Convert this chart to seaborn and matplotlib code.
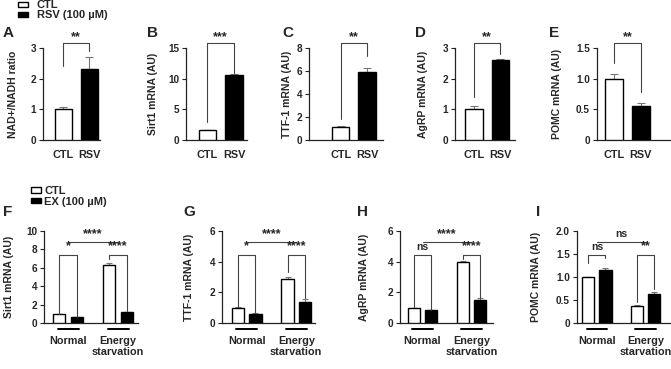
import numpy as np
import pandas as pd
import matplotlib
matplotlib.use("Agg")
import matplotlib.pyplot as plt
import seaborn as sns
from matplotlib.patches import Patch

# ---------------- data ----------------
top_groups = ["CTL", "RSV"]
top_letters = ["A", "B", "C", "D", "E"]
top_ylabels = ["NAD+/NADH ratio", "Sirt1 mRNA (AU)", "TTF-1 mRNA (AU)",
               "AgRP mRNA (AU)", "POMC mRNA (AU)"]
top_means = [[1.0, 2.3], [1.6, 10.6], [1.1, 5.9], [1.0, 2.6], [1.0, 0.55]]
top_sem = [[0.07, 0.4], [0.1, 0.1], [0.12, 0.35], [0.12, 0.03], [0.07, 0.05]]
top_yticks = [[0, 1, 2, 3], [0, 5, 10, 15], [0, 2, 4, 6, 8], [0, 1, 2, 3],
              [0, 0.5, 1.0, 1.5]]
top_yticklabels = [["0", "1", "2", "3"], ["0", "5", "10", "15"],
                   ["0", "2", "4", "6", "8"], ["0", "1", "2", "3"],
                   ["0", "0.5", "1.0", "1.5"]]
top_sig = ["**", "***", "**", "**", "**"]
top_leg_bottom = [[2.4, 2.9], [3.0, 10.9], [1.8, 7.3], [1.4, 2.8], [1.26, 0.79]]

bot_groups = ["Normal", "Energy\nstarvation"]
bot_treats = ["CTL", "EX (100 µM)"]
bot_letters = ["F", "G", "H", "I"]
bot_ylabels = ["Sirt1 mRNA (AU)", "TTF-1 mRNA (AU)", "AgRP mRNA (AU)",
               "POMC mRNA (AU)"]
bot_ctl = [[1.0, 6.3], [1.0, 2.9], [1.0, 4.0], [1.0, 0.38]]
bot_ex = [[0.65, 1.15], [0.6, 1.4], [0.85, 1.5], [1.15, 0.64]]
bot_ctl_sem = [[0.0, 0.25], [0.05, 0.07], [0.0, 0.07], [0.0, 0.02]]
bot_ex_sem = [[0.03, 0.05], [0.05, 0.15], [0.0, 0.15], [0.05, 0.03]]
bot_yticks = [[0, 2, 4, 6, 8, 10], [0, 2, 4, 6], [0, 2, 4, 6],
              [0, 0.5, 1.0, 1.5, 2.0]]
bot_yticklabels = [["0", "2", "4", "6", "8", "10"], ["0", "2", "4", "6"],
                   ["0", "2", "4", "6"], ["0", "0.5", "1.0", "1.5", "2.0"]]
bot_sig_within = [["*", "****"], ["*", "****"], ["ns", "****"], ["ns", "**"]]
bot_sig_between = ["****", "****", "****", "ns"]
bot_leg_bottom = [[[1.0, 0.65], [7.0, 1.3]], [[1.05, 0.65], [3.3, 1.6]],
                  [[1.04, 0.85], [4.17, 1.63]], [[1.3, 1.42], [0.45, 0.75]]]

# ---------------- layout (pixels) ----------------
W, H = 671, 369
top_rects = [(43, 48, 100, 140), (186, 48, 247, 140), (309, 48, 383, 140),
             (455, 48, 515, 140), (597, 48, 670, 140)]
top_xlims = [(-0.79, 1.42), (-0.81, 1.49), (-1.19, 1.6), (-0.72, 1.55), (-0.64, 2.1)]
top_letter_x = [3, 147, 282, 415, 549]
top_ylabel_x = [13, 153, 287, 423, 557]

bot_rects = [(44, 231, 138, 323), (222, 231, 315, 323), (400, 231, 493, 323),
             (577, 231, 670, 323)]
bot_xlims = [(-0.48, 1.4), (-0.5, 1.38), (-0.46, 1.44), (-0.41, 1.5)]
bot_letter_x = [3, 183, 357, 536]
bot_ylabel_x = [9, 189, 364, 536]

sns.set_style("ticks")
plt.rcParams["font.family"] = ["Liberation Sans", "DejaVu Sans"]
plt.rcParams["font.weight"] = "bold"
plt.rcParams["axes.labelweight"] = "bold"

fig = plt.figure(figsize=(W / 100, H / 100), dpi=100)
fig.patch.set_facecolor("white")

LINE = "#444444"
ERR = "#777777"
SIGFS = 9


def add_ax(rect):
    l, t, r, b = rect
    return fig.add_axes([l / W, 1 - b / H, (r - l) / W, (b - t) / H])


def style_ax(ax, yticks, yticklabels, ylabel, lab_x_px, rect):
    ax.set_ylim(yticks[0], yticks[-1])
    ax.set_yticks(yticks)
    ax.set_yticklabels(yticklabels)
    ax.set_ylabel(ylabel, fontsize=7.5, fontweight="bold")
    l, t, r, b = rect
    ax.yaxis.set_label_coords((lab_x_px + 5 - l) / (r - l), 0.5)
    sns.despine(ax=ax)
    for s in ["left", "bottom"]:
        ax.spines[s].set_linewidth(0.9)
        ax.spines[s].set_color("#222222")
    ax.tick_params(axis="y", length=3, width=0.8, labelsize=7.2, pad=2,
                   color="#222222")
    ax.set_xlabel("")
    ax.set_facecolor("white")


def bracket(ax, x0, x1, top, b0, b1, txt, txt_y):
    ax.plot([x0, x0, x1, x1], [b0, top, top, b1], color=LINE, lw=0.8,
            clip_on=False, zorder=5)
    fs = 7.5 if txt == "ns" else SIGFS
    ax.text((x0 + x1) / 2, txt_y, txt, ha="center", va="center",
            fontsize=fs, fontweight="bold", clip_on=False, zorder=6)


# ---------------- top row ----------------
for i in range(5):
    rect = top_rects[i]
    ax = add_ax(rect)
    sns.barplot(x=top_groups, y=top_means[i], hue=top_groups,
                palette=["white", "black"], edgecolor="black", linewidth=1.0,
                width=0.67, errorbar=None, legend=False, ax=ax, zorder=3)
    ax.errorbar([0, 1], top_means[i], yerr=[[0, 0], top_sem[i]], fmt="none",
                ecolor=ERR, elinewidth=0.8, capsize=3, capthick=0.8, zorder=2)
    style_ax(ax, top_yticks[i], top_yticklabels[i], top_ylabels[i],
             top_ylabel_x[i], rect)
    ax.set_xlim(*top_xlims[i])
    ax.tick_params(axis="x", length=0, labelsize=7.8, pad=7)
    ymax = top_yticks[i][-1]
    span = rect[3] - rect[1]
    top_y = ymax * (rect[3] - 43) / span
    txt_y = ymax * (rect[3] - 37) / span
    bracket(ax, 0, 1, top_y, top_leg_bottom[i][0], top_leg_bottom[i][1],
            top_sig[i], txt_y)
    fig.text(top_letter_x[i] / W, 1 - 33 / H, top_letters[i], fontsize=11,
             fontweight="bold", ha="left", va="center")

# ---------------- bottom row ----------------
half = 0.175
for i in range(4):
    rect = bot_rects[i]
    ax = add_ax(rect)
    df = pd.DataFrame({
        "cond": bot_groups * 2,
        "treat": [bot_treats[0]] * 2 + [bot_treats[1]] * 2,
        "value": bot_ctl[i] + bot_ex[i],
    })
    sns.barplot(data=df, x="cond", y="value", hue="treat", order=bot_groups,
                hue_order=bot_treats, palette=["white", "black"],
                edgecolor="black", linewidth=1.0, width=0.7, gap=0.29,
                errorbar=None, legend=False, ax=ax, zorder=3)
    xs = [0 - half, 1 - half, 0 + half, 1 + half]
    ys = bot_ctl[i] + bot_ex[i]
    es = bot_ctl_sem[i] + bot_ex_sem[i]
    ax.errorbar(xs, ys, yerr=[[0] * 4, es], fmt="none", ecolor=ERR,
                elinewidth=0.8, capsize=2.5, capthick=0.8, zorder=2)
    style_ax(ax, bot_yticks[i], bot_yticklabels[i], bot_ylabels[i],
             bot_ylabel_x[i], rect)
    ax.set_xlim(*bot_xlims[i])
    ax.tick_params(axis="x", length=0, labelsize=7.8, pad=9)
    span = rect[3] - rect[1]
    for g in range(2):
        ax.plot([g - 0.21, g + 0.21], [-6 / span] * 2, color="black", lw=1.4,
                transform=ax.get_xaxis_transform(), clip_on=False)
    ymax = bot_yticks[i][-1]
    inner_top = ymax * 0.74
    inner_txt = ymax * 0.83
    for g in range(2):
        bracket(ax, g - half, g + half, inner_top, bot_leg_bottom[i][g][0],
                bot_leg_bottom[i][g][1], bot_sig_within[i][g], inner_txt)
    ov = ymax * 0.88
    ax.plot([0, 1], [ov, ov], color=LINE, lw=0.8, clip_on=False, zorder=5)
    fs = 7.5 if bot_sig_between[i] == "ns" else SIGFS
    ax.text(0.5, ymax * 0.965, bot_sig_between[i], ha="center", va="center",
            fontsize=fs, fontweight="bold", clip_on=False)
    fig.text(bot_letter_x[i] / W, 1 - 212 / H, bot_letters[i], fontsize=11,
             fontweight="bold", ha="left", va="center")

# ---------------- legends ----------------
top_handles = [Patch(facecolor="white", edgecolor="black", lw=1, label="CTL"),
               Patch(facecolor="black", edgecolor="black", lw=1,
                     label="RSV (100 µM)")]
fig.legend(handles=top_handles, loc="upper left",
           bbox_to_anchor=(18 / W, 1 - 0.5 / H), frameon=False,
           prop={"size": 8, "weight": "bold"}, handlelength=0.9,
           handleheight=0.4, handletextpad=0.8, labelspacing=0.0,
           borderpad=0, borderaxespad=0)
bot_handles = [Patch(facecolor="white", edgecolor="black", lw=1, label=bot_treats[0]),
               Patch(facecolor="black", edgecolor="black", lw=1, label=bot_treats[1])]
fig.legend(handles=bot_handles, loc="upper left",
           bbox_to_anchor=(31 / W, 1 - 186 / H), frameon=False,
           prop={"size": 8, "weight": "bold"}, handlelength=0.9,
           handleheight=0.4, handletextpad=0.3, labelspacing=0.05,
           borderpad=0, borderaxespad=0)

fig.savefig("out.png", dpi=100, facecolor="white")
